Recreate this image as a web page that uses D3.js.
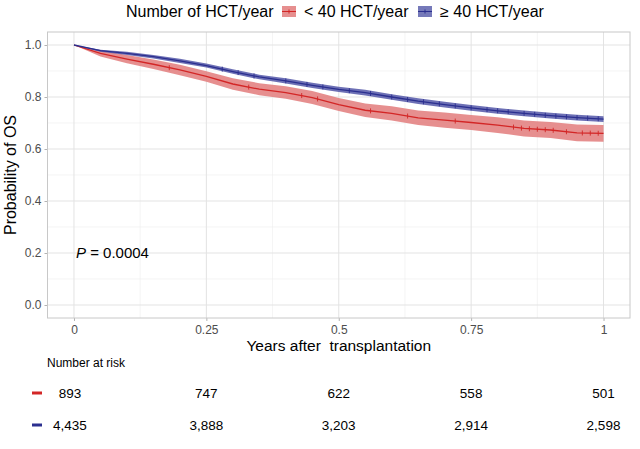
<!DOCTYPE html>
<html>
<head>
<meta charset="utf-8">
<script src="https://cdn.jsdelivr.net/npm/d3@7"></script>
<style>
  body { margin: 0; background: #fff; }
  text { font-family: "Liberation Sans", Arial, sans-serif; }
</style>
</head>
<body>
<svg id="km" width="640" height="449"></svg>
<script>
// Data
const times = [0, 0.05, 0.1, 0.15, 0.2, 0.25, 0.3, 0.35, 0.4, 0.45, 0.5,
  0.55, 0.6, 0.65, 0.7, 0.75, 0.8, 0.85, 0.9, 0.95, 1.0];

const survLow = [1.0, 0.968, 0.946, 0.926, 0.904, 0.879, 0.850, 0.830, 0.817, 0.798, 0.771,
  0.749, 0.737, 0.720, 0.711, 0.702, 0.692, 0.679, 0.673, 0.662, 0.660];
const lowerLow = [1.0, 0.956, 0.930, 0.908, 0.884, 0.859, 0.828, 0.807, 0.793, 0.773, 0.746,
  0.723, 0.710, 0.692, 0.682, 0.673, 0.662, 0.648, 0.642, 0.630, 0.628];
const upperLow = [1.0, 0.980, 0.962, 0.944, 0.924, 0.899, 0.872, 0.853, 0.841, 0.823, 0.796,
  0.775, 0.764, 0.748, 0.740, 0.731, 0.722, 0.710, 0.704, 0.694, 0.692];

const survHigh = [1.0, 0.978, 0.968, 0.955, 0.939, 0.921, 0.898, 0.877, 0.862, 0.845, 0.829,
  0.817, 0.800, 0.784, 0.771, 0.758, 0.747, 0.737, 0.728, 0.721, 0.715];
const lowerHigh = [1.0, 0.974, 0.962, 0.948, 0.931, 0.913, 0.889, 0.868, 0.852, 0.835, 0.819,
  0.806, 0.789, 0.773, 0.760, 0.747, 0.736, 0.726, 0.717, 0.710, 0.704];
const upperHigh = [1.0, 0.982, 0.974, 0.962, 0.947, 0.929, 0.907, 0.886, 0.872, 0.855, 0.839,
  0.828, 0.811, 0.795, 0.782, 0.769, 0.758, 0.748, 0.739, 0.732, 0.726];

const censorLow = [0.18, 0.33, 0.43, 0.46, 0.56, 0.63, 0.72, 0.83, 0.845, 0.86, 0.875,
  0.89, 0.905, 0.93, 0.96, 0.975, 0.99];
const censorHigh = [0.28, 0.31, 0.34, 0.40, 0.44, 0.47, 0.52, 0.56, 0.60, 0.63, 0.66, 0.69,
  0.72, 0.75, 0.78, 0.80, 0.82, 0.85, 0.87, 0.89, 0.91, 0.93, 0.95, 0.97, 0.99];

const groups = ["< 40 HCT/year", "\u2265 40 HCT/year"];
const lineColors = ["#d32626", "#2b2f8f"];
const bandColors = ["#e27b7b", "#5d61ad"];

const riskTimes = [0, 0.25, 0.5, 0.75, 1];
const riskLow = [893, 747, 622, 558, 501];
const riskHigh = [4435, 3888, 3203, 2914, 2598];

const xTicks = [0, 0.25, 0.5, 0.75, 1];
const xTickLabels = ["0", "0.25", "0.5", "0.75", "1"];
const yTicks = [0, 0.2, 0.4, 0.6, 0.8, 1.0];

// Layout
var svg = d3.select("#km");
var panel = { left: 47.5, right: 630, top: 32, bottom: 318 };

var x = d3.scaleLinear().domain([-0.05, 1.05]).range([panel.left, panel.right]);
var y = d3.scaleLinear().domain([-0.05, 1.05]).range([panel.bottom, panel.top]);

// grid
var grid = svg.append("g");
grid.selectAll(".minx")
  .data([0.125, 0.375, 0.625, 0.875])
  .enter().append("line")
  .attr("x1", d => x(d)).attr("x2", d => x(d))
  .attr("y1", panel.top).attr("y2", panel.bottom)
  .attr("stroke", "#ededed").attr("stroke-width", 0.6);
grid.selectAll(".miny")
  .data([0.1, 0.3, 0.5, 0.7, 0.9])
  .enter().append("line")
  .attr("y1", d => y(d)).attr("y2", d => y(d))
  .attr("x1", panel.left).attr("x2", panel.right)
  .attr("stroke", "#ededed").attr("stroke-width", 0.6);
grid.selectAll(".majx")
  .data(xTicks)
  .enter().append("line")
  .attr("x1", d => x(d)).attr("x2", d => x(d))
  .attr("y1", panel.top).attr("y2", panel.bottom)
  .attr("stroke", "#e3e3e3").attr("stroke-width", 1);
grid.selectAll(".majy")
  .data(yTicks)
  .enter().append("line")
  .attr("y1", d => y(d)).attr("y2", d => y(d))
  .attr("x1", panel.left).attr("x2", panel.right)
  .attr("stroke", "#e3e3e3").attr("stroke-width", 1);

// axes
var xAxis = d3.axisBottom(x).tickValues(xTicks)
  .tickFormat((d, i) => xTickLabels[i]).tickSize(3).tickPadding(4);
var yAxis = d3.axisLeft(y).tickValues(yTicks)
  .tickFormat(d3.format(".1f")).tickSize(3).tickPadding(3);

var gx = svg.append("g").attr("transform", `translate(0,${panel.bottom})`).call(xAxis);
var gy = svg.append("g").attr("transform", `translate(${panel.left},0)`).call(yAxis);
[gx, gy].forEach(g => {
  g.select(".domain").remove();
  g.selectAll(".tick line").attr("stroke", "#b3b3b3");
  g.selectAll(".tick text").attr("fill", "#4d4d4d").style("font-size", "12px");
});

// curves
var series = [
  { surv: survLow, lo: lowerLow, hi: upperLow, censor: censorLow },
  { surv: survHigh, lo: lowerHigh, hi: upperHigh, censor: censorHigh }
];

var area = d3.area()
  .x((d, i) => x(times[i]))
  .y0(d => y(d[0]))
  .y1(d => y(d[1]));
var line = d3.line()
  .x((d, i) => x(times[i]))
  .y(d => y(d));

function survAt(s, t) {
  let i = d3.bisectRight(times, t) - 1;
  if (i >= times.length - 1) return s[s.length - 1];
  let f = (t - times[i]) / (times[i + 1] - times[i]);
  return s[i] + f * (s[i + 1] - s[i]);
}

var plot = svg.append("g");
series.forEach(function(sr, k) {
  plot.append("path")
    .datum(sr.lo.map((v, i) => [v, sr.hi[i]]))
    .attr("d", area)
    .attr("fill", bandColors[k])
    .attr("fill-opacity", k == 0 ? 0.85 : 0.9);
});
series.forEach(function(sr, k) {
  plot.append("path")
    .datum(sr.surv)
    .attr("d", line)
    .attr("fill", "none")
    .attr("stroke", lineColors[k])
    .attr("stroke-width", 1.3);
  plot.selectAll(".c" + k)
    .data(sr.censor)
    .enter().append("line")
    .attr("x1", d => x(d)).attr("x2", d => x(d))
    .attr("y1", d => y(survAt(sr.surv, d)) - 2.5)
    .attr("y2", d => y(survAt(sr.surv, d)) + 2.5)
    .attr("stroke", lineColors[k])
    .attr("stroke-width", 0.9);
});

// panel border
svg.append("rect")
  .attr("x", panel.left).attr("y", panel.top)
  .attr("width", panel.right - panel.left)
  .attr("height", panel.bottom - panel.top)
  .attr("fill", "none").attr("stroke", "#c8c8c8").attr("stroke-width", 1);

// p value
var ptxt = svg.append("text")
  .attr("x", x(0) + 2).attr("y", y(0.2) + 5)
  .style("font-size", "15px").attr("fill", "#000");
ptxt.append("tspan").style("font-style", "italic").text("P");
ptxt.append("tspan").text(" = 0.0004");

// axis titles
svg.append("text")
  .attr("transform", `translate(16,${(panel.top + panel.bottom) / 2}) rotate(-90)`)
  .attr("text-anchor", "middle")
  .style("font-size", "16px")
  .text("Probability of OS");

svg.append("text")
  .attr("x", x(0.5)).attr("y", 351)
  .attr("text-anchor", "middle")
  .style("font-size", "15.5px")
  .attr("xml:space", "preserve")
  .text("Years after  transplantation");

// legend
var legend = svg.append("g");
legend.append("text")
  .attr("x", 126).attr("y", 17)
  .style("font-size", "16px")
  .text("Number of HCT/year");
var keyX = [282, 418], labX = [304, 440];
groups.forEach(function(g, k) {
  legend.append("rect")
    .attr("x", keyX[k]).attr("y", 6)
    .attr("width", 14).attr("height", 11)
    .attr("fill", bandColors[k]).attr("fill-opacity", 0.85);
  legend.append("line")
    .attr("x1", keyX[k]).attr("x2", keyX[k] + 14)
    .attr("y1", 11.5).attr("y2", 11.5)
    .attr("stroke", lineColors[k]).attr("stroke-width", 1);
  legend.append("line")
    .attr("x1", keyX[k] + 7).attr("x2", keyX[k] + 7)
    .attr("y1", 9.5).attr("y2", 13.5)
    .attr("stroke", lineColors[k]).attr("stroke-width", 1);
  legend.append("text")
    .attr("x", labX[k]).attr("y", 17)
    .style("font-size", "16px")
    .text(g);
});

// risk table
svg.append("text")
  .attr("x", 47).attr("y", 367)
  .style("font-size", "12px")
  .text("Number at risk");

var rows = [riskLow, riskHigh], rowY = [398, 430];
rows.forEach(function(r, k) {
  svg.append("line")
    .attr("x1", 32).attr("x2", 42)
    .attr("y1", rowY[k] - 5).attr("y2", rowY[k] - 5)
    .attr("stroke", lineColors[k]).attr("stroke-width", 3);
  svg.selectAll(".r" + k)
    .data(r)
    .enter().append("text")
    .attr("x", (d, i) => x(riskTimes[i]) - (i == 0 ? 4 : 0))
    .attr("y", rowY[k])
    .attr("text-anchor", "middle")
    .style("font-size", "13.5px")
    .text(d => d3.format(",")(d));
});
</script>
</body>
</html>
